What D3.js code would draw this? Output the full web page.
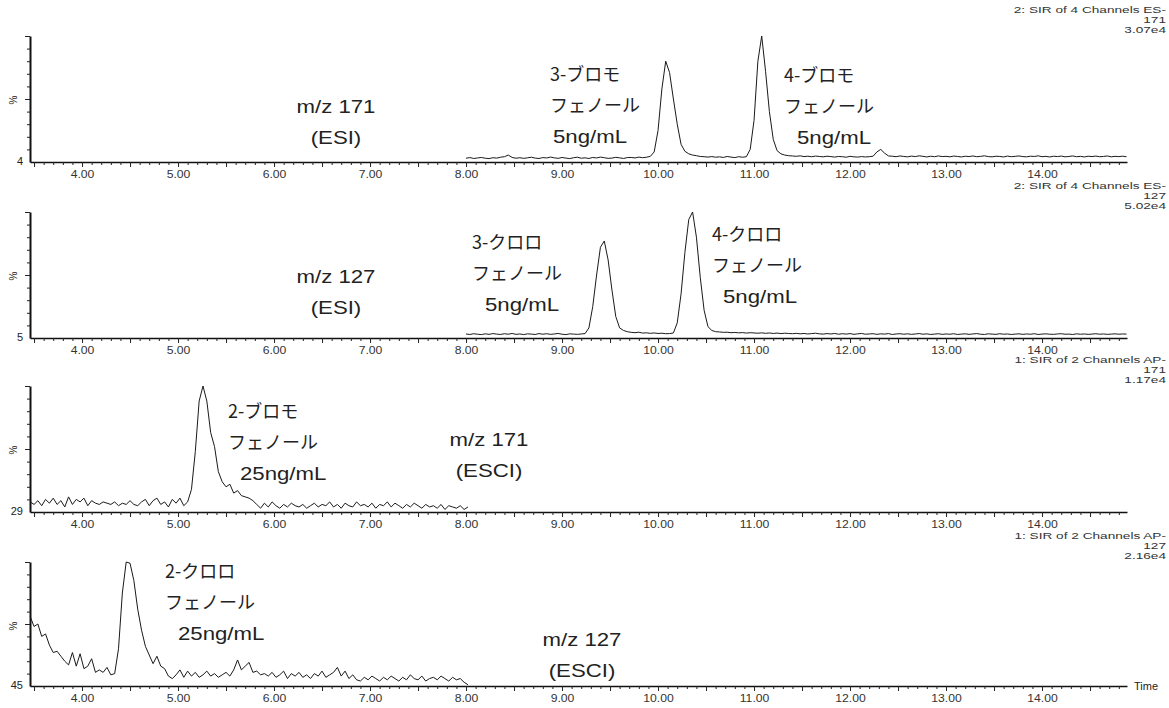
<!DOCTYPE html>
<html><head><meta charset="utf-8">
<script src="https://cdn.jsdelivr.net/npm/d3@7"></script>
<style>
body{margin:0;background:#fff}
text{fill:#222}
</style>
</head><body>
<svg id="chart" width="1169" height="708"></svg>
<script>
// ---------------- data ----------------
const timeTicks = [4,5,6,7,8,9,10,11,12,13,14];
const tickLabels = ["4.00","5.00","6.00","7.00","8.00","9.00","10.00","11.00","12.00","13.00","14.00"];
const channelTitles = ["2: SIR of 4 Channels ES-","2: SIR of 4 Channels ES-","1: SIR of 2 Channels AP-","1: SIR of 2 Channels AP-"];
const channelMasses = ["171","127","171","127"];
const channelIntensities = ["3.07e4","5.02e4","1.17e4","2.16e4"];
const baselineOffsets = ["4","5","29","45"];
const traceStart = [8.00, 8.00, 3.46, 3.46];   // min
const traceStep = 0.04;                          // min between points

// 3-/4-bromophenol, m/z 171 (ESI)
const trace1 = [
 3,3.5,2.8,3.2,3.6,3,2.7,3.4,3.1,3.8,
 4.2,5.5,3.6,3,3.4,2.9,3.3,3.8,3.1,2.8,
 3.5,3.2,3.9,3.3,2.9,3.6,3.1,2.7,3.4,3.8,
 3,3.3,2.8,3.6,3.2,3.9,3.4,2.9,3.1,3.7,
 3.3,2.8,3.5,3.6,3.2,3.9,3.4,3.8,
 4.5,8,25,58,80,71,50,30,14,8.5,6.5,5.5,5,4.4,
 4.2,3.9,4.3,3.8,4.1,3.6,4.4,3.9,3.5,4.2,3.8,
 4.2,10,33,80,100,72,40,18,9,6.5,5.5,5,
 4.8,4.5,4.9,4.3,4.6,4.2,4.7,4.4,4.1,4.6,4.3,3.9,4.4,4.2,3.8,4.5,4.1,3.9,4.3,4.0,4.2,4.6,
 8,10,7,4.8,
 4.6,4.2,4.8,4.4,4.1,4.7,4.3,4.9,4.5,4.0,
 4.6,4.2,4.8,4.3,4.5,4.1,4.7,4.4,4.0,4.6,
 4.3,4.8,4.2,4.5,4.9,4.3,4.1,4.6,4.4,4.0,
 4.7,4.2,4.5,4.8,4.3,4.1,4.6,4.4,4.9,4.2,
 4.5,4.0,4.6,4.3,4.7,4.1,4.4,4.8,4.2,4.5,
 4.0,4.6,4.3,4.7,4.2,4.4,4.8,4.1,4.5,4.3,
 4.6,4.2
];
// 3-/4-chlorophenol, m/z 127 (ESI)
const trace2 = [
 3.2,2.8,3.4,3.0,2.7,3.3,2.9,3.5,3.1,2.8,3.4,3.0,3.6,2.9,3.2,2.7,3.3,3.1,2.8,3.5,3.0,3.4,2.9,3.2,3.6,3.0,2.7,3.3,3.1,2.9,3.2,
 3.5,8,25,50,72,77,62,38,17,8,6,5,4.5,
 4.2,4.6,3.9,4.1,3.7,4.0,3.6,3.8,3.4,3.5,
 4,12,35,68,94,100,80,48,22,9,6,5,
 4.8,4.5,4.6,4.2,4.4,4.1,4.3,3.9,4.2,4.0,
 3.8,4.1,3.7,4.0,3.6,3.9,3.5,3.8,3.6,3.4,
 3.7,3.3,3.6,3.2,3.5,3.8,3.3,3.1,3.5,3.2,
 3.6,3.0,3.4,3.1,3.5,2.9,3.3,3.6,3.0,3.2,
 3.4,2.9,3.3,3.1,3.5,2.8,3.2,3.4,3.0,3.3,
 2.9,3.2,3.5,3.0,3.3,2.8,3.1,3.4,2.9,3.2,
 3.0,3.4,2.8,3.1,3.3,2.9,3.2,3.5,3.0,2.8,
 3.3,3.1,2.9,3.4,3.0,3.2,2.8,3.1,3.3,2.9,
 3.2,3.0,3.4,2.8,3.1,3.3,3.0,2.9,3.2,3.4,
 3.0,3.1,2.8,3.3,3.0,3.2,2.9,3.1,3.4,3.0,
 3.2,2.9,3.1,3.3,3.0,3.2,3.1
];
// 2-bromophenol, m/z 171 (ESCI)
const trace3 = [
 8,6,9,5,10,7,11,6,9,4,12,6,10,8,11,5,9,7,6,8,
 7,6,8,5,7,6,9,6,5,8,10,5,9,11,6,8,4,10,7,11,5,
 8,18,48,88,100,88,63,52,32,24,20,22,15,17,13,12,11,9,
 6,3,7,4,8,5,3,6,4,7,
 5,4,6,3,5,7,4,6,5,8,
 4,6,3,7,5,4,8,5,6,4,
 7,3,6,5,8,4,7,5,3,6,
 4,7,5,3,6,4,5,3,6,2,
 5,4,3,5,2,4
];
// 2-chlorophenol, m/z 127 (ESCI)
const trace4 = [
 56,48,50,40,42,33,27,28,24,20,
 17,27,16,26,14,16,22,11,13,11,
 15,9,10,30,75,100,99,85,62,45,
 32,25,18,24,16,14,8,6,9,13,
 7,
 12,8,11,7,9,12,8,10,7,9,
 11,8,13,21,13,16,19,11,12,9,
 10,8,11,7,9,12,6,10,8,11,
 7,9,6,10,8,12,7,9,11,15,
 8,12,6,9,5,4,7,5,8,6,
 4,7,5,8,6,4,7,5,9,6,
 5,8,4,6,7,5,8,6,4,7,
 5,6,3,1
];
const traces = [trace1, trace2, trace3, trace4];

// annotation texts per panel
const compoundLabels = [
  [["3-ブロモ","フェノール","5ng/mL"],["4-ブロモ","フェノール","5ng/mL"]],
  [["3-クロロ","フェノール","5ng/mL"],["4-クロロ","フェノール","5ng/mL"]],
  [["2-ブロモ","フェノール","25ng/mL"]],
  [["2-クロロ","フェノール","25ng/mL"]]
];
const ionLabels = [["m/z 171","(ESI)"],["m/z 127","(ESI)"],["m/z 171","(ESCI)"],["m/z 127","(ESCI)"]];

// ---------------- layout ----------------
const panelTop = [36, 212, 386, 562];
const panelH = [126, 126, 126, 124];
// compound label blocks: left x of lines 1-2, left x of line 3, y of first line relative to panel top
const compoundPos = [
  [[550,553,39],[784,797,40]],
  [[472,485,31],[712,723,23]],
  [[228,240,26]],
  [[165,178,10]]
];
const ionPos = [[336,71],[336,65],[489,54],[582,78]];
const lineGap = 31;

const svg = d3.select("#chart");
const x = d3.scaleLinear().domain([3.458, 14.885]).range([30, 1127]);
const minorTicks = d3.range(35, 149).map(d => d/10).filter(d => Math.round(d*10) % 5 !== 0);
const halfTicks = d3.range(7, 30).map(d => d/2);

const latinFont = "'Liberation Sans', Arial, sans-serif";
const cjkFont = "'Noto Sans CJK JP', 'Liberation Sans', sans-serif";

traces.forEach((vals, i) => {
  const top = panelTop[i], h = panelH[i], base = top + h;
  const y = d3.scaleLinear().domain([0, 100]).range([base, top]);
  const g = svg.append("g");

  // x axis: minor ticks, half/integer ticks, labels
  const gx1 = g.append("g").attr("transform", `translate(0,${base})`)
    .call(d3.axisBottom(x).tickValues(minorTicks).tickSize(3).tickSizeOuter(0).tickFormat(""));
  gx1.select(".domain").attr("stroke", "#111").attr("stroke-width", 1.6);
  const gx2 = g.append("g").attr("transform", `translate(0,${base})`)
    .call(d3.axisBottom(x).tickValues(halfTicks).tickSize(5).tickSizeOuter(0).tickFormat(""));
  gx2.select(".domain").remove();
  const gx3 = g.append("g").attr("transform", `translate(0,${base})`)
    .call(d3.axisBottom(x).tickValues(timeTicks).tickSize(0).tickSizeOuter(0)
      .tickFormat((d, k) => tickLabels[k]));
  gx3.select(".domain").remove();
  gx3.selectAll("text").attr("y", 13).attr("dy", "0.35em")
    .attr("transform", "scale(1.22,1)")
    .style("font-family", latinFont).style("font-size", "10px").style("fill", "#333");
  g.selectAll(".tick line").attr("stroke", "#222");

  // y axis
  const gy1 = g.append("g").attr("transform", "translate(30,0)")
    .call(d3.axisLeft(y).tickValues([10,20,30,40,60,70,80,90]).tickSize(3).tickSizeOuter(0).tickFormat(""));
  gy1.select(".domain").attr("stroke", "#111").attr("stroke-width", 2);
  const gy2 = g.append("g").attr("transform", "translate(30,0)")
    .call(d3.axisLeft(y).tickValues([50,100]).tickSize(5).tickSizeOuter(0).tickFormat(""));
  gy2.select(".domain").remove();
  g.selectAll(".tick line").attr("stroke", "#222");

  g.append("text").attr("x", 23).attr("y", base).attr("dy", "0.3em")
    .attr("text-anchor", "end").style("font-family", latinFont).style("font-size", "11px")
    .text(baselineOffsets[i]);
  g.append("text").attr("transform", `translate(17,${top + 64}) rotate(-90)`)
    .attr("text-anchor", "middle").style("font-family", latinFont).style("font-size", "10px")
    .text("%");

  // header
  const hdr = [channelTitles[i], channelMasses[i], channelIntensities[i]];
  hdr.forEach((t, k) => {
    g.append("text").attr("transform", `translate(1166,${top - 26 + k * 10.2}) scale(1.55,1)`)
      .attr("dy", "0.35em").attr("text-anchor", "end")
      .style("font-family", latinFont).style("font-size", "8.8px").style("fill", "#333")
      .text(t);
  });

  // trace
  const line = d3.line()
    .x((d, k) => x(traceStart[i] + k * traceStep))
    .y(d => y(d));
  g.append("path").datum(vals).attr("d", line)
    .attr("fill", "none").attr("stroke", "#1a1a1a").attr("stroke-width", 1)
    .attr("stroke-linejoin", "round");

  // compound labels
  compoundLabels[i].forEach((lines, j) => {
    const [lx, lx3, ly] = compoundPos[i][j];
    lines.forEach((t, k) => {
      const isLatin = k === 2;
      const tx = isLatin ? lx3 : lx;
      g.append("text")
        .attr("transform", `translate(${tx},${top + ly + k * lineGap})` + (isLatin ? " scale(1.2,1)" : ""))
        .attr("dy", "0.35em")
        .style("font-family", isLatin ? latinFont : cjkFont)
        .style("font-size", isLatin ? "18.5px" : "18px")
        .text(t);
    });
  });

  // ion labels
  ionLabels[i].forEach((t, k) => {
    g.append("text")
      .attr("transform", `translate(${ionPos[i][0]},${top + ionPos[i][1] + k * lineGap}) scale(1.2,1)`)
      .attr("dy", "0.35em").attr("text-anchor", "middle")
      .style("font-family", latinFont).style("font-size", "18.5px")
      .text(t);
  });

  if (i === traces.length - 1) {
    g.append("text").attr("x", 1134).attr("y", base).attr("dy", "0.35em")
      .style("font-family", latinFont).style("font-size", "11px").text("Time");
  }
});
</script>
</body></html>
